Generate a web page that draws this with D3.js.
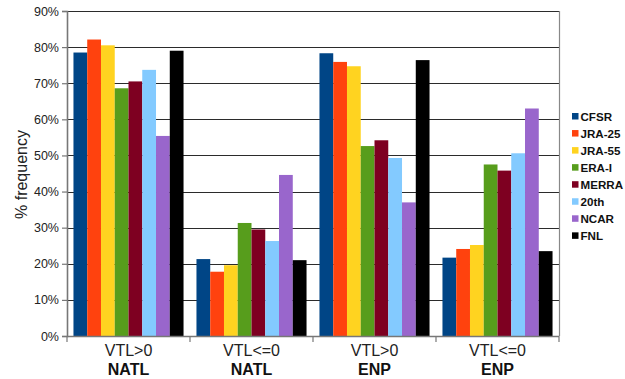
<!DOCTYPE html>
<html>
<head>
<meta charset="utf-8">
<script src="https://cdn.jsdelivr.net/npm/d3@7"></script>
<style>
  html, body { margin: 0; padding: 0; background: #fff; }
  svg { display: block; font-family: "Liberation Sans", Arial, sans-serif; }
</style>
</head>
<body>
<svg id="chart" width="625" height="379"></svg>
<script>
// Groups along the x axis (two-line labels)
const categories = ["NATL VTL>0", "NATL VTL<=0", "ENP VTL>0", "ENP VTL<=0"];
const categoryTop = ["VTL>0", "VTL<=0", "VTL>0", "VTL<=0"];
const categoryBottom = ["NATL", "NATL", "ENP", "ENP"];

// Reanalysis datasets
const seriesNames = ["CFSR", "JRA-25", "JRA-55", "ERA-I", "MERRA", "20th", "NCAR", "FNL"];
const seriesColors = ["#004586", "#ff420e", "#ffd320", "#579d1c", "#7e0021", "#83caff", "#9966cc", "#000000"];

// % frequency per dataset, one array per group
const natlPos = [78.5, 82.1, 80.5, 68.6, 70.5, 73.7, 55.4, 79.0];
const natlNeg = [21.3, 17.8, 19.6, 31.3, 29.5, 26.3, 44.6, 21.0];
const enpPos  = [78.3, 75.9, 74.7, 52.6, 54.2, 49.3, 37.0, 76.4];
const enpNeg  = [21.7, 24.1, 25.2, 47.5, 45.8, 50.6, 63.0, 23.5];
const groupValues = [natlPos, natlNeg, enpPos, enpNeg];

const yTicks = [0, 10, 20, 30, 40, 50, 60, 70, 80, 90];

const svg = d3.select("#chart");
const margin = { left: 67, right: 66, top: 11, bottom: 43 };
const W = 625, H = 379;
const plotW = W - margin.left - margin.right;
const plotH = H - margin.top - margin.bottom;

const g = svg.append("g").attr("transform", `translate(${margin.left},${margin.top})`);

const x0 = d3.scaleBand().domain(categories).range([0, plotW]).paddingInner(0).paddingOuter(0);
const x1 = d3.scaleBand().domain(seriesNames).range([0, x0.bandwidth()]).paddingInner(0).paddingOuter(0.47);
const y = d3.scaleLinear().domain([0, 90]).range([plotH, 0]);

// horizontal gridlines
g.append("g")
  .selectAll("line")
  .data(yTicks.filter(t => t > 0))
  .join("line")
  .attr("x1", 0).attr("x2", plotW)
  .attr("y1", d => Math.round(y(d)) + 0.5).attr("y2", d => Math.round(y(d)) + 0.5)
  .attr("stroke", "#2b2b2b").attr("stroke-width", 1.2);

// bars
const groups = g.append("g")
  .selectAll("g")
  .data(categories)
  .join("g")
  .attr("transform", d => `translate(${x0(d)},0)`);

groups.selectAll("rect")
  .data((d, i) => groupValues[i].map((v, j) => ({ name: seriesNames[j], value: v, color: seriesColors[j] })))
  .join("rect")
  .attr("x", d => x1(d.name))
  .attr("width", x1.bandwidth())
  .attr("y", d => y(d.value))
  .attr("height", d => y(0) - y(d.value))
  .attr("fill", d => d.color);

// right border
g.append("line")
  .attr("x1", plotW + 0.5).attr("x2", plotW + 0.5)
  .attr("y1", 0).attr("y2", plotH)
  .attr("stroke", "#888").attr("stroke-width", 1.2);

// y axis
const yAxis = g.append("g")
  .call(d3.axisLeft(y).tickValues(yTicks).tickFormat(d => d + "%").tickSize(5).tickPadding(3));
yAxis.select(".domain").attr("stroke", "#777").attr("stroke-width", 1.6);
yAxis.selectAll(".tick line").attr("stroke", "#777").attr("stroke-width", 1.2);
yAxis.selectAll(".tick text")
  .attr("font-size", 12.5).attr("fill", "#222")
  .attr("font-family", "Liberation Sans, Arial, sans-serif");

// x axis: tick marks at group boundaries
const xb = g.append("g").attr("transform", `translate(0,${plotH})`);
xb.append("line").attr("x1", 0).attr("x2", plotW).attr("y1", 0.5).attr("y2", 0.5)
  .attr("stroke", "#777").attr("stroke-width", 1.4);
xb.selectAll("line.tk")
  .data(d3.range(categories.length + 1))
  .join("line")
  .attr("class", "tk")
  .attr("x1", i => i * x0.bandwidth()).attr("x2", i => i * x0.bandwidth())
  .attr("y1", 0).attr("y2", 6)
  .attr("stroke", "#777").attr("stroke-width", 1.2);

const lbl = xb.selectAll("g.lbl")
  .data(categories)
  .join("g")
  .attr("class", "lbl")
  .attr("transform", d => `translate(${x0(d) + x0.bandwidth() / 2},0)`);
lbl.append("text")
  .attr("y", 20).attr("text-anchor", "middle")
  .attr("font-size", 16).attr("fill", "#222")
  .text((d, i) => categoryTop[i]);
lbl.append("text")
  .attr("y", 39).attr("text-anchor", "middle")
  .attr("font-size", 16).attr("font-weight", "bold").attr("fill", "#111")
  .text((d, i) => categoryBottom[i]);

// y axis title
svg.append("text")
  .attr("transform", `translate(27,${margin.top + plotH / 2 + 1}) rotate(-90)`)
  .attr("text-anchor", "middle")
  .attr("font-size", 16).attr("fill", "#222")
  .text("% frequency");

// legend
const legend = svg.append("g").attr("transform", "translate(572,116)");
const item = legend.selectAll("g")
  .data(seriesNames)
  .join("g")
  .attr("transform", (d, i) => `translate(0,${i * 17.05})`);
item.append("rect")
  .attr("x", 0).attr("y", -3).attr("width", 6.5).attr("height", 6.5)
  .attr("fill", (d, i) => seriesColors[i]);
item.append("text")
  .attr("x", 8.5).attr("y", 5)
  .attr("font-size", 11.6).attr("font-weight", "bold").attr("fill", "#111")
  .text(d => d);
</script>
</body>
</html>
